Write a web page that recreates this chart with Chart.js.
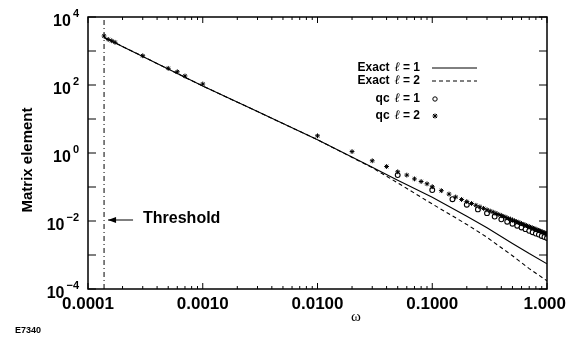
<!DOCTYPE html>
<html>
<head>
<meta charset="utf-8">
<script src="https://cdn.jsdelivr.net/npm/chart.js@4.4.0/dist/chart.umd.min.js"></script>
<style>
body{margin:0;background:#fff;}
#wrap{width:575px;height:339px;position:relative;}
</style>
</head>
<body>
<div id="wrap"><canvas id="charts-matrix"></canvas></div>
<script>
// values (omega on x, matrix element on y)
var threshold = 1.38e-4;
var exactOmega = [1.38e-4, 3e-4, 0.001, 0.003, 0.01, 0.03, 0.05, 0.1, 0.2, 0.3, 0.5, 0.7, 1.0];
var exactL1 = [2510, 692, 93, 16.6, 2.45, 0.38, 0.158, 0.050, 0.0138, 0.0063, 0.00219, 0.0011, 0.00055];
var exactL2 = [2510, 692, 93, 16.6, 2.45, 0.37, 0.132, 0.0316, 0.00794, 0.00331, 0.00095, 0.000398, 0.000174];

var qcL1Omega = [0.05, 0.10, 0.15, 0.20, 0.25, 0.30, 0.35, 0.40, 0.45, 0.50, 0.55, 0.60, 0.65, 0.70, 0.75, 0.80, 0.85, 0.90, 0.95, 1.00];
var qcL1 = [0.224, 0.0813, 0.0437, 0.0302, 0.0219, 0.0170, 0.0135, 0.0112, 0.00955, 0.00832, 0.00724, 0.00646, 0.00575, 0.00513, 0.00468, 0.00427, 0.00398, 0.00363, 0.00339, 0.00316];

var qcL2Omega = [1.38e-4, 1.5e-4, 1.61e-4, 1.72e-4, 3e-4, 5e-4, 6e-4, 7e-4, 0.001, 0.01, 0.02, 0.03, 0.04, 0.05, 0.06, 0.07, 0.08, 0.09,
    0.10, 0.12, 0.14, 0.16, 0.18, 0.20, 0.22, 0.24, 0.26, 0.28, 0.30, 0.32, 0.34, 0.36, 0.38, 0.40, 0.42, 0.44, 0.46, 0.48,
    0.50, 0.52, 0.54, 0.56, 0.58, 0.60, 0.62, 0.64, 0.66, 0.68, 0.70, 0.72, 0.74, 0.76, 0.78, 0.80, 0.82, 0.84, 0.86, 0.88,
    0.90, 0.92, 0.94, 0.96, 0.98, 1.00];
var qcL2 = [2760, 2190, 2000, 1800, 724, 309, 245, 184, 107, 3.2, 1.1, 0.59, 0.40, 0.28, 0.224, 0.173, 0.145, 0.124,
    0.102, 0.0780, 0.0619, 0.0508, 0.0429, 0.0372, 0.0327, 0.0290, 0.0260, 0.0235, 0.0214, 0.0196, 0.0181, 0.0167, 0.0155, 0.0145, 0.0136, 0.0127, 0.0119, 0.0113,
    0.0107, 0.0101, 0.00964, 0.00916, 0.00873, 0.00834, 0.00798, 0.00764, 0.00731, 0.00702, 0.00676, 0.00652, 0.00628, 0.00604, 0.00585, 0.00565, 0.00546, 0.00528, 0.00513, 0.00497,
    0.00482, 0.00467, 0.00454, 0.00442, 0.00429, 0.00417];

var xTicks = [0.0001, 0.001, 0.01, 0.1, 1];
var xTickLabels = ['0.0001', '0.0010', '0.0100', '0.1000', '1.000'];
var yTicks = [1e-4, 1e-2, 1, 1e2, 1e4];
var yTickExp = ['\u22124', '\u22122', '0', '2', '4'];

function pairs(xs, ys){
    var out = [];
    for (var i = 0; i < xs.length; i++) out.push({x: xs[i], y: ys[i]});
    return out;
}

var font = '"Liberation Sans", Arial, sans-serif';

function seg(ctx, x1, y1, x2, y2){
    ctx.beginPath(); ctx.moveTo(x1, y1); ctx.lineTo(x2, y2); ctx.stroke();
}

function ellLabel(ctx, word, num, right, y){
    ctx.textAlign = 'right';
    ctx.textBaseline = 'middle';
    ctx.font = 'bold 12px ' + font;
    var tail = '= ' + num;
    ctx.fillText(tail, right, y);
    var w = ctx.measureText(tail).width + 3;
    ctx.font = 'italic 13px "DejaVu Serif", serif';
    ctx.fillText('\u2113', right - w, y);
    w += ctx.measureText('\u2113').width + 5;
    ctx.font = 'bold 12px ' + font;
    ctx.fillText(word, right - w, y);
}

var frame = {
    id: 'frame',
    afterDraw: function(chart){
        var ctx = chart.ctx, a = chart.chartArea;
        var xs = chart.scales.x, ys = chart.scales.y;
        ctx.save();
        ctx.strokeStyle = '#000';
        ctx.fillStyle = '#000';
        ctx.lineWidth = 1.5;
        ctx.strokeRect(a.left, a.top, a.right - a.left, a.bottom - a.top);
        ctx.lineWidth = 1;
        // inward ticks, x: decades + minors
        for (var e = -4; e <= 0; e++){
            for (var k = 1; k < 10; k++){
                var v = k * Math.pow(10, e);
                if (v > 1) break;
                var px = xs.getPixelForValue(v);
                var len = k == 1 ? 6 : 3;
                seg(ctx, px, a.bottom, px, a.bottom - len);
                seg(ctx, px, a.top, px, a.top + len);
            }
        }
        // y: every decade
        for (var d = -4; d <= 4; d++){
            var py = ys.getPixelForValue(Math.pow(10, d));
            seg(ctx, a.left, py, a.left + 8, py);
            seg(ctx, a.right, py, a.right - 8, py);
        }
        // x labels
        ctx.font = 'bold 17px ' + font;
        ctx.textBaseline = 'middle';
        for (var i = 0; i < xTicks.length; i++){
            var lx = xs.getPixelForValue(xTicks[i]);
            if (i == xTicks.length - 1){
                ctx.textAlign = 'right';
                ctx.fillText(xTickLabels[i], lx + 19, 304);
            } else {
                ctx.textAlign = 'center';
                ctx.fillText(xTickLabels[i], lx, 304);
            }
        }
        // y labels as 10^n
        for (var j = 0; j < yTicks.length; j++){
            var ty = ys.getPixelForValue(yTicks[j]);
            ctx.textAlign = 'right';
            ctx.font = 'bold 11px ' + font;
            ctx.fillText(yTickExp[j], 79, ty - 3);
            var ew = ctx.measureText(yTickExp[j]).width;
            ctx.font = 'bold 16px ' + font;
            ctx.fillText('10', 79 - ew - 2, ty + 5);
        }
        // axis titles
        ctx.save();
        ctx.translate(28, 160);
        ctx.rotate(-Math.PI / 2);
        ctx.textAlign = 'center';
        ctx.font = 'bold 15px ' + font;
        ctx.fillText('Matrix element', 0, 0);
        ctx.restore();
        ctx.textAlign = 'center';
        ctx.font = '15px "Liberation Serif", serif';
        ctx.fillText('\u03c9', 356, 317);
        ctx.textAlign = 'left';
        ctx.font = 'bold 9px ' + font;
        ctx.fillText('E7340', 15, 331);

        // threshold arrow + label
        var tx = xs.getPixelForValue(threshold) + 4;
        var tyy = ys.getPixelForValue(1e-2) - 1;
        seg(ctx, tx, tyy, tx + 25, tyy);
        ctx.beginPath();
        ctx.moveTo(tx, tyy); ctx.lineTo(tx + 8, tyy - 3); ctx.lineTo(tx + 8, tyy + 3); ctx.closePath(); ctx.fill();
        ctx.font = 'bold 16px ' + font;
        ctx.textAlign = 'left';
        ctx.fillText('Threshold', tx + 35, tyy - 1);

        // legend
        ellLabel(ctx, 'Exact', '1', 420, 68);
        ellLabel(ctx, 'Exact', '2', 420, 81);
        ellLabel(ctx, 'qc', '1', 420, 99);
        ellLabel(ctx, 'qc', '2', 420, 116);
        ctx.lineWidth = 1;
        seg(ctx, 432, 68, 477, 68);
        ctx.setLineDash([4, 3]);
        seg(ctx, 432, 81, 477, 81);
        ctx.setLineDash([]);
        ctx.beginPath(); ctx.arc(435, 99, 2.2, 0, Math.PI * 2); ctx.stroke();
        seg(ctx, 433, 114, 437, 118);
        seg(ctx, 433, 118, 437, 114);
        seg(ctx, 435, 113.5, 435, 118.5);
        seg(ctx, 432.5, 116, 437.5, 116);
        ctx.restore();
    }
};

var config = {
    type: 'scatter',
    data: {
        datasets: [
            {
                label: 'qc l=2',
                data: pairs(qcL2Omega, qcL2),
                pointStyle: 'star',
                pointRadius: 2.4,
                borderColor: '#000',
                borderWidth: 1,
                backgroundColor: '#000',
                clip: 0,
                order: 0
            },
            {
                label: 'qc l=1',
                data: pairs(qcL1Omega, qcL1),
                pointStyle: 'circle',
                pointRadius: 2.4,
                borderColor: '#000',
                borderWidth: 1.1,
                backgroundColor: '#fff',
                clip: 0,
                order: 1
            },
            {
                label: 'Exact l=1',
                data: pairs(exactOmega, exactL1),
                showLine: true,
                pointRadius: 0,
                borderColor: '#000',
                borderWidth: 1.1,
                tension: 0,
                order: 2
            },
            {
                label: 'Exact l=2',
                data: pairs(exactOmega, exactL2),
                showLine: true,
                pointRadius: 0,
                borderColor: '#000',
                borderWidth: 1.1,
                borderDash: [4, 3],
                tension: 0,
                order: 3
            },
            {
                label: 'Threshold',
                data: [{x: threshold, y: 1e-4}, {x: threshold, y: 1e4}],
                showLine: true,
                pointRadius: 0,
                borderColor: '#000',
                borderWidth: 1,
                borderDash: [5, 3, 1, 3],
                order: 4
            }
        ]
    },
    options: {
        responsive: true,
        maintainAspectRatio: false,
        animation: false,
        events: [],
        layout: {
            padding: {left: 88, top: 17, right: 28, bottom: 50}
        },
        plugins: {
            legend: {display: false},
            title: {display: false},
            tooltip: {enabled: false}
        },
        scales: {
            x: {
                type: 'logarithmic',
                min: 1e-4,
                max: 1,
                display: false
            },
            y: {
                type: 'logarithmic',
                min: 1e-4,
                max: 1e4,
                display: false
            }
        }
    },
    plugins: [frame]
};

new Chart(document.getElementById('charts-matrix'), config);
</script>
</body>
</html>
